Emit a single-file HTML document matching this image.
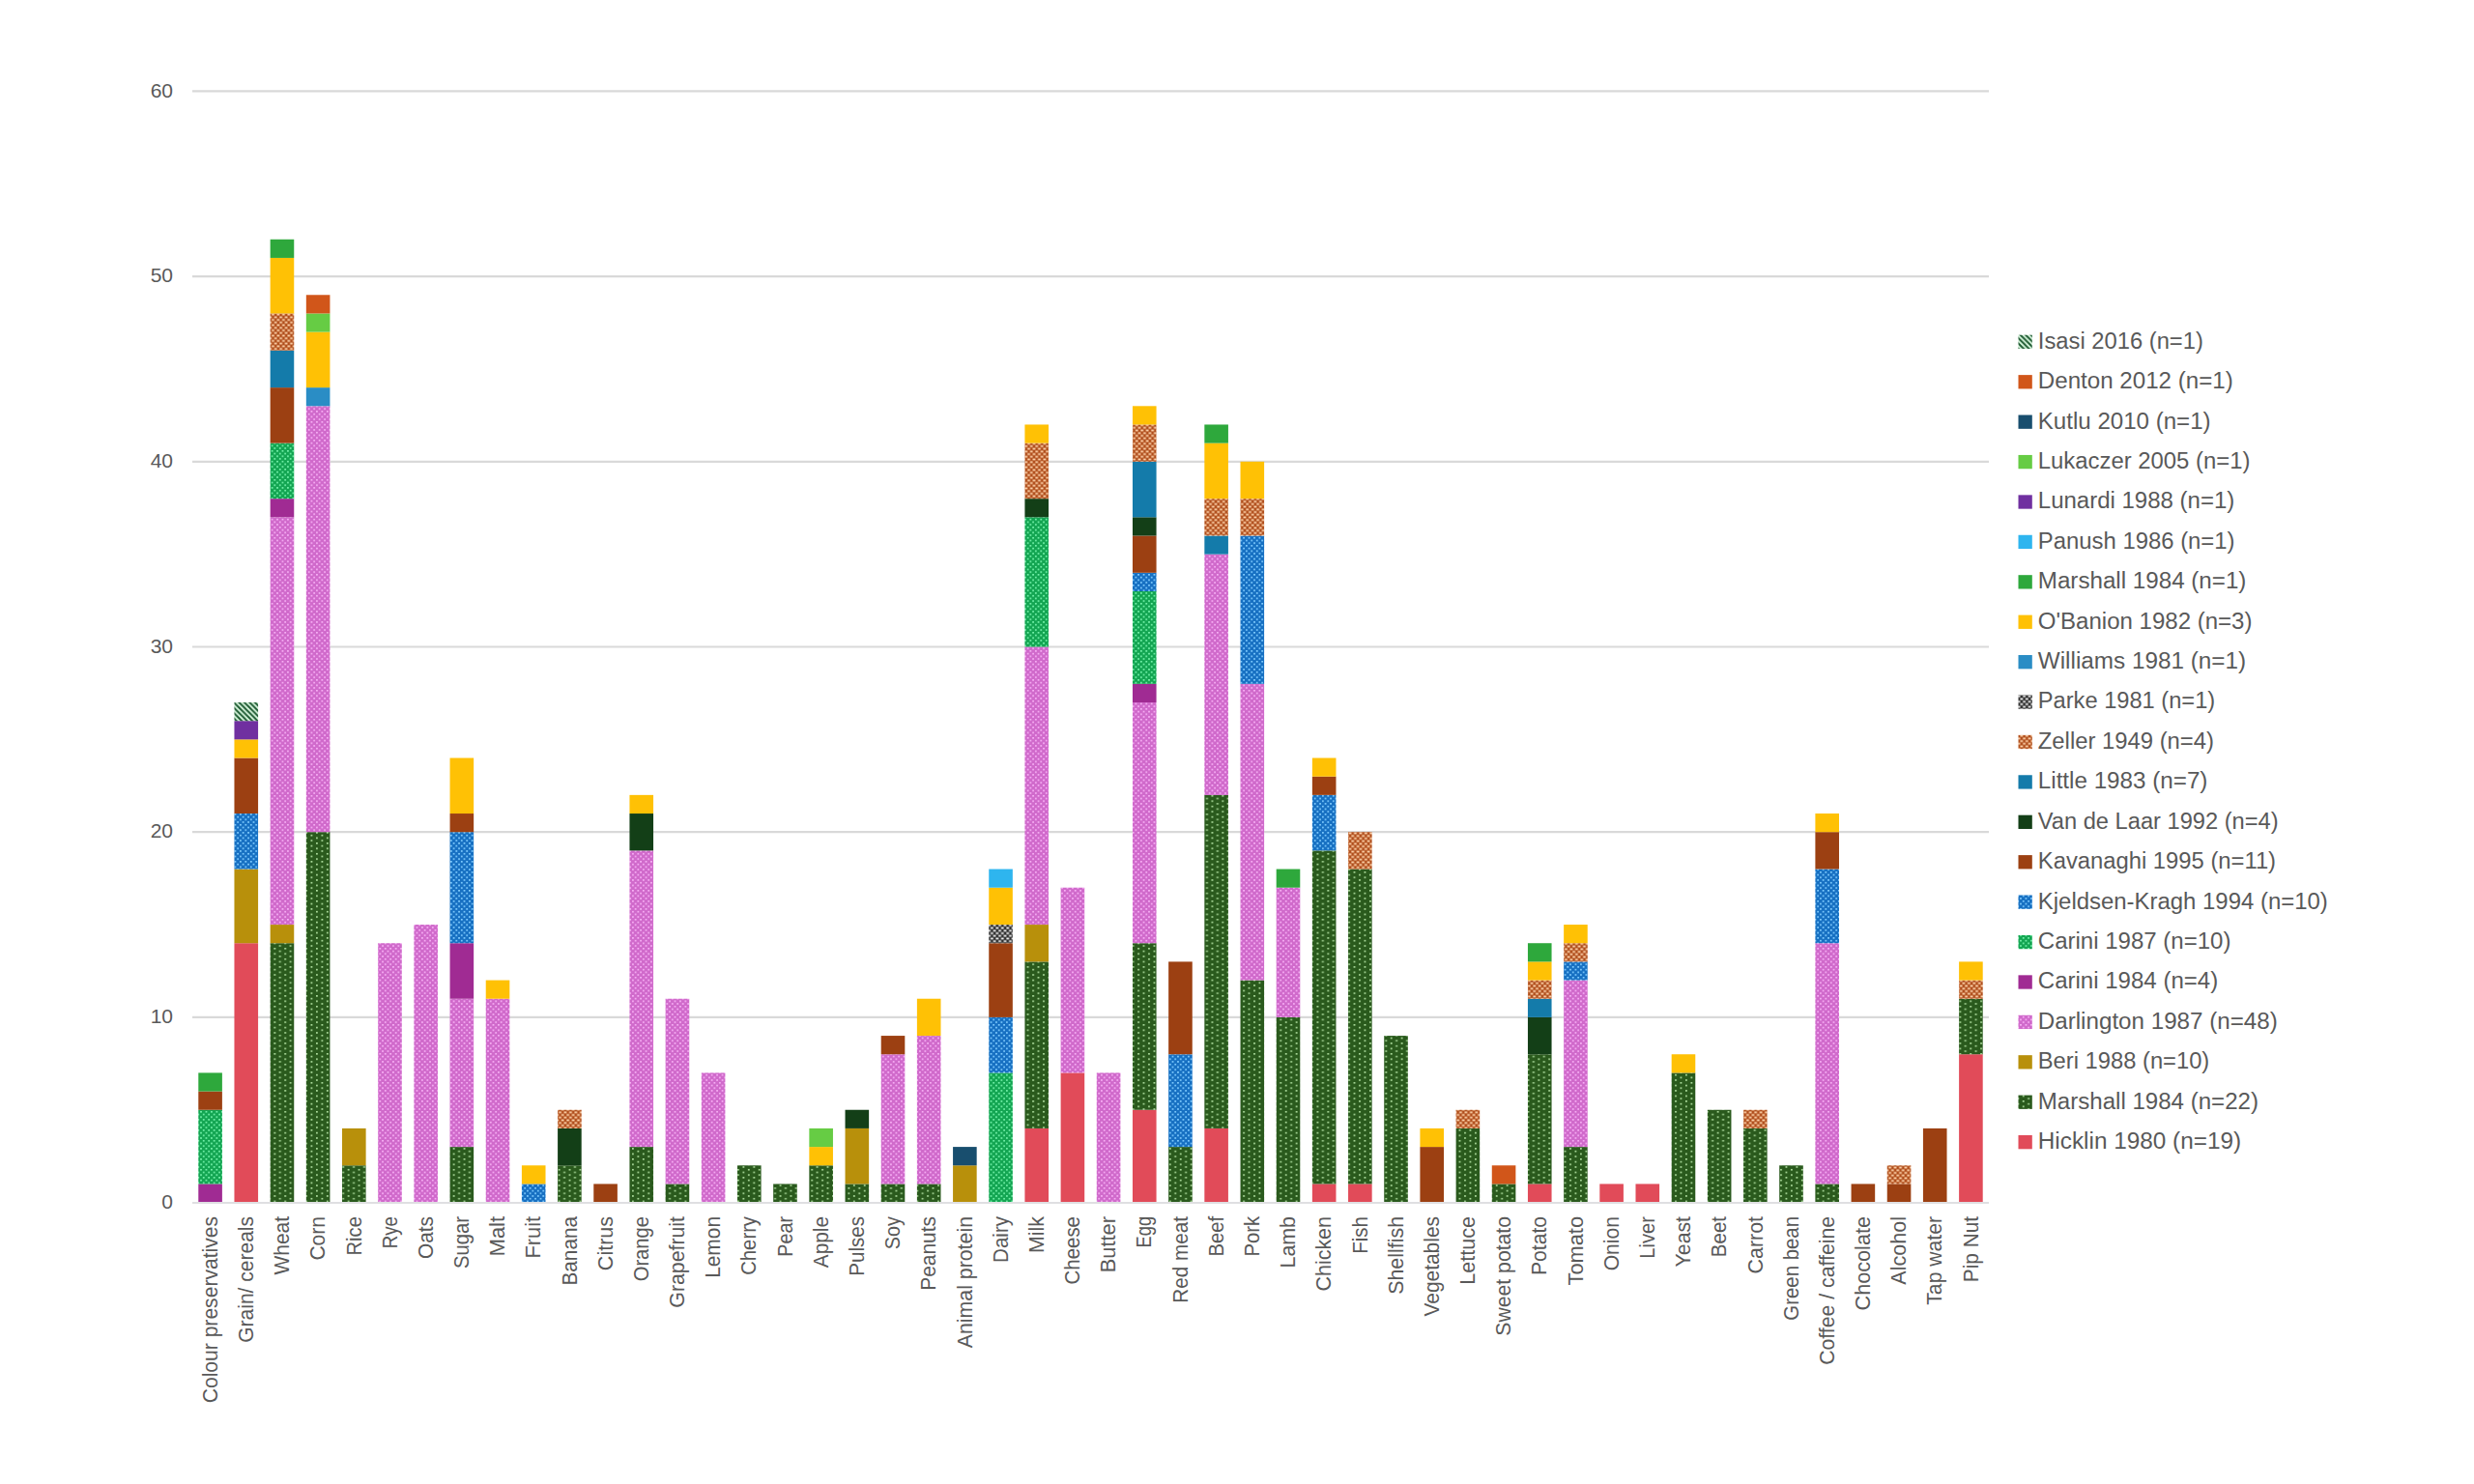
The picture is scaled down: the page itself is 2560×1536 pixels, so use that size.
<!DOCTYPE html>
<html><head><meta charset="utf-8"><title>Chart</title>
<style>html,body{margin:0;padding:0;background:#fff;}body{width:2560px;height:1536px;overflow:hidden;}svg{display:block;}</style>
</head><body>
<svg width="2560" height="1536" viewBox="0 0 2560 1536">
<defs>
<pattern id="dotg" patternUnits="userSpaceOnUse" width="10.9" height="5.45"><rect width="10.9" height="5.45" fill="#2A5A1D"/><rect x="0" y="0" width="1.8" height="1.6" fill="#B0E0A0"/><rect x="5.45" y="2.72" width="1.8" height="1.6" fill="#B0E0A0"/></pattern>
<pattern id="dotp" patternUnits="userSpaceOnUse" width="5.45" height="5.45"><rect width="5.45" height="5.45" fill="#D06ACB"/><rect x="0" y="0" width="1.8" height="1.6" fill="#F7B0F5"/><rect x="2.72" y="2.72" width="1.8" height="1.6" fill="#F7B0F5"/></pattern>
<pattern id="dotb" patternUnits="userSpaceOnUse" width="5.45" height="5.45"><rect width="5.45" height="5.45" fill="#1770C2"/><rect x="0" y="0" width="1.8" height="1.6" fill="#80CCFF"/><rect x="2.72" y="2.72" width="1.8" height="1.6" fill="#80CCFF"/></pattern>
<pattern id="dotc" patternUnits="userSpaceOnUse" width="5.45" height="5.45"><rect width="5.45" height="5.45" fill="#13A552"/><rect x="0" y="0" width="1.8" height="1.6" fill="#74F2AA"/><rect x="2.72" y="2.72" width="1.8" height="1.6" fill="#74F2AA"/></pattern>
<pattern id="brkz" patternUnits="userSpaceOnUse" width="5.45" height="5.45"><rect width="5.45" height="5.45" fill="#B04E1C"/><rect x="0.4" y="0.45" width="2.8" height="1.8" fill="#FFD4AC"/><rect x="3.12" y="3.17" width="2.8" height="1.8" fill="#FFD4AC"/><rect x="-2.33" y="3.17" width="2.8" height="1.8" fill="#FFD4AC"/></pattern>
<pattern id="brkp" patternUnits="userSpaceOnUse" width="5.45" height="5.45"><rect width="5.45" height="5.45" fill="#303030"/><rect x="0.4" y="0.45" width="2.8" height="1.8" fill="#F2F2F2"/><rect x="3.12" y="3.17" width="2.8" height="1.8" fill="#F2F2F2"/><rect x="-2.33" y="3.17" width="2.8" height="1.8" fill="#F2F2F2"/></pattern>
<pattern id="strp" patternUnits="userSpaceOnUse" width="5.45" height="5.45"><rect width="5.45" height="5.45" fill="#D6F5DC"/><path d="M-1,-1 L6.45,6.45 M-1,4.45 L1,6.45 M4.45,-1 L6.45,1" stroke="#1E5A32" stroke-width="2"/></pattern>
</defs>
<rect width="2560" height="1536" fill="#ffffff"/>
<g stroke="#D9D9D9" stroke-width="2.2"><line x1="199" y1="1052.9" x2="2058" y2="1052.9"/><line x1="199" y1="861.2" x2="2058" y2="861.2"/><line x1="199" y1="669.5" x2="2058" y2="669.5"/><line x1="199" y1="477.8" x2="2058" y2="477.8"/><line x1="199" y1="286.1" x2="2058" y2="286.1"/><line x1="199" y1="94.4" x2="2058" y2="94.4"/></g>
<line x1="199" y1="1245" x2="2058" y2="1245" stroke="#D4D4D8" stroke-width="1.7"/>
<g font-family="Liberation Sans, Arial, sans-serif" font-size="21" fill="#595959" text-anchor="end"><text x="179.0" y="1250.8">0</text><text x="179.0" y="1059.1">10</text><text x="179.0" y="867.4">20</text><text x="179.0" y="675.7">30</text><text x="179.0" y="484">40</text><text x="179.0" y="292.3">50</text><text x="179.0" y="100.6">60</text></g>
<g><rect x="205.29" y="1225.43" width="24.6" height="18.57" fill="#A02B93"/><rect x="205.29" y="1148.75" width="24.6" height="76.68" fill="url(#dotc)"/><rect x="205.29" y="1129.58" width="24.6" height="19.17" fill="#9C4012"/><rect x="205.29" y="1110.41" width="24.6" height="19.17" fill="#2EA83C"/><rect x="242.47" y="976.22" width="24.6" height="267.78" fill="#E14B59"/><rect x="242.47" y="899.54" width="24.6" height="76.68" fill="#B8900B"/><rect x="242.47" y="842.03" width="24.6" height="57.51" fill="url(#dotb)"/><rect x="242.47" y="784.52" width="24.6" height="57.51" fill="#9C4012"/><rect x="242.47" y="765.35" width="24.6" height="19.17" fill="#FFC105"/><rect x="242.47" y="746.18" width="24.6" height="19.17" fill="#7030A0"/><rect x="242.47" y="727.01" width="24.6" height="19.17" fill="url(#strp)"/><rect x="279.65" y="976.22" width="24.6" height="267.78" fill="url(#dotg)"/><rect x="279.65" y="957.05" width="24.6" height="19.17" fill="#B8900B"/><rect x="279.65" y="535.31" width="24.6" height="421.74" fill="url(#dotp)"/><rect x="279.65" y="516.14" width="24.6" height="19.17" fill="#A02B93"/><rect x="279.65" y="458.63" width="24.6" height="57.51" fill="url(#dotc)"/><rect x="279.65" y="401.12" width="24.6" height="57.51" fill="#9C4012"/><rect x="279.65" y="362.78" width="24.6" height="38.34" fill="#147BAA"/><rect x="279.65" y="324.44" width="24.6" height="38.34" fill="url(#brkz)"/><rect x="279.65" y="266.93" width="24.6" height="57.51" fill="#FFC105"/><rect x="279.65" y="247.76" width="24.6" height="19.17" fill="#2EA83C"/><rect x="316.83" y="861.2" width="24.6" height="382.8" fill="url(#dotg)"/><rect x="316.83" y="420.29" width="24.6" height="440.91" fill="url(#dotp)"/><rect x="316.83" y="401.12" width="24.6" height="19.17" fill="#2A8DC5"/><rect x="316.83" y="343.61" width="24.6" height="57.51" fill="#FFC105"/><rect x="316.83" y="324.44" width="24.6" height="19.17" fill="#66CC44"/><rect x="316.83" y="305.27" width="24.6" height="19.17" fill="#D1561A"/><rect x="354.01" y="1206.26" width="24.6" height="37.74" fill="url(#dotg)"/><rect x="354.01" y="1167.92" width="24.6" height="38.34" fill="#B8900B"/><rect x="391.19" y="976.22" width="24.6" height="267.78" fill="url(#dotp)"/><rect x="428.37" y="957.05" width="24.6" height="286.95" fill="url(#dotp)"/><rect x="465.55" y="1187.09" width="24.6" height="56.91" fill="url(#dotg)"/><rect x="465.55" y="1033.73" width="24.6" height="153.36" fill="url(#dotp)"/><rect x="465.55" y="976.22" width="24.6" height="57.51" fill="#A02B93"/><rect x="465.55" y="861.2" width="24.6" height="115.02" fill="url(#dotb)"/><rect x="465.55" y="842.03" width="24.6" height="19.17" fill="#9C4012"/><rect x="465.55" y="784.52" width="24.6" height="57.51" fill="#FFC105"/><rect x="502.73" y="1033.73" width="24.6" height="210.27" fill="url(#dotp)"/><rect x="502.73" y="1014.56" width="24.6" height="19.17" fill="#FFC105"/><rect x="539.91" y="1225.43" width="24.6" height="18.57" fill="url(#dotb)"/><rect x="539.91" y="1206.26" width="24.6" height="19.17" fill="#FFC105"/><rect x="577.09" y="1206.26" width="24.6" height="37.74" fill="url(#dotg)"/><rect x="577.09" y="1167.92" width="24.6" height="38.34" fill="#133F17"/><rect x="577.09" y="1148.75" width="24.6" height="19.17" fill="url(#brkz)"/><rect x="614.27" y="1225.43" width="24.6" height="18.57" fill="#9C4012"/><rect x="651.45" y="1187.09" width="24.6" height="56.91" fill="url(#dotg)"/><rect x="651.45" y="880.37" width="24.6" height="306.72" fill="url(#dotp)"/><rect x="651.45" y="842.03" width="24.6" height="38.34" fill="#133F17"/><rect x="651.45" y="822.86" width="24.6" height="19.17" fill="#FFC105"/><rect x="688.63" y="1225.43" width="24.6" height="18.57" fill="url(#dotg)"/><rect x="688.63" y="1033.73" width="24.6" height="191.7" fill="url(#dotp)"/><rect x="725.81" y="1110.41" width="24.6" height="133.59" fill="url(#dotp)"/><rect x="762.99" y="1206.26" width="24.6" height="37.74" fill="url(#dotg)"/><rect x="800.17" y="1225.43" width="24.6" height="18.57" fill="url(#dotg)"/><rect x="837.35" y="1206.26" width="24.6" height="37.74" fill="url(#dotg)"/><rect x="837.35" y="1187.09" width="24.6" height="19.17" fill="#FFC105"/><rect x="837.35" y="1167.92" width="24.6" height="19.17" fill="#66CC44"/><rect x="874.53" y="1225.43" width="24.6" height="18.57" fill="url(#dotg)"/><rect x="874.53" y="1167.92" width="24.6" height="57.51" fill="#B8900B"/><rect x="874.53" y="1148.75" width="24.6" height="19.17" fill="#133F17"/><rect x="911.71" y="1225.43" width="24.6" height="18.57" fill="url(#dotg)"/><rect x="911.71" y="1091.24" width="24.6" height="134.19" fill="url(#dotp)"/><rect x="911.71" y="1072.07" width="24.6" height="19.17" fill="#9C4012"/><rect x="948.89" y="1225.43" width="24.6" height="18.57" fill="url(#dotg)"/><rect x="948.89" y="1072.07" width="24.6" height="153.36" fill="url(#dotp)"/><rect x="948.89" y="1033.73" width="24.6" height="38.34" fill="#FFC105"/><rect x="986.07" y="1206.26" width="24.6" height="37.74" fill="#B8900B"/><rect x="986.07" y="1187.09" width="24.6" height="19.17" fill="#184E6E"/><rect x="1023.25" y="1110.41" width="24.6" height="133.59" fill="url(#dotc)"/><rect x="1023.25" y="1052.9" width="24.6" height="57.51" fill="url(#dotb)"/><rect x="1023.25" y="976.22" width="24.6" height="76.68" fill="#9C4012"/><rect x="1023.25" y="957.05" width="24.6" height="19.17" fill="url(#brkp)"/><rect x="1023.25" y="918.71" width="24.6" height="38.34" fill="#FFC105"/><rect x="1023.25" y="899.54" width="24.6" height="19.17" fill="#2EB5EF"/><rect x="1060.43" y="1167.92" width="24.6" height="76.08" fill="#E14B59"/><rect x="1060.43" y="995.39" width="24.6" height="172.53" fill="url(#dotg)"/><rect x="1060.43" y="957.05" width="24.6" height="38.34" fill="#B8900B"/><rect x="1060.43" y="669.5" width="24.6" height="287.55" fill="url(#dotp)"/><rect x="1060.43" y="535.31" width="24.6" height="134.19" fill="url(#dotc)"/><rect x="1060.43" y="516.14" width="24.6" height="19.17" fill="#133F17"/><rect x="1060.43" y="458.63" width="24.6" height="57.51" fill="url(#brkz)"/><rect x="1060.43" y="439.46" width="24.6" height="19.17" fill="#FFC105"/><rect x="1097.61" y="1110.41" width="24.6" height="133.59" fill="#E14B59"/><rect x="1097.61" y="918.71" width="24.6" height="191.7" fill="url(#dotp)"/><rect x="1134.79" y="1110.41" width="24.6" height="133.59" fill="url(#dotp)"/><rect x="1171.97" y="1148.75" width="24.6" height="95.25" fill="#E14B59"/><rect x="1171.97" y="976.22" width="24.6" height="172.53" fill="url(#dotg)"/><rect x="1171.97" y="727.01" width="24.6" height="249.21" fill="url(#dotp)"/><rect x="1171.97" y="707.84" width="24.6" height="19.17" fill="#A02B93"/><rect x="1171.97" y="611.99" width="24.6" height="95.85" fill="url(#dotc)"/><rect x="1171.97" y="592.82" width="24.6" height="19.17" fill="url(#dotb)"/><rect x="1171.97" y="554.48" width="24.6" height="38.34" fill="#9C4012"/><rect x="1171.97" y="535.31" width="24.6" height="19.17" fill="#133F17"/><rect x="1171.97" y="477.8" width="24.6" height="57.51" fill="#147BAA"/><rect x="1171.97" y="439.46" width="24.6" height="38.34" fill="url(#brkz)"/><rect x="1171.97" y="420.29" width="24.6" height="19.17" fill="#FFC105"/><rect x="1209.15" y="1187.09" width="24.6" height="56.91" fill="url(#dotg)"/><rect x="1209.15" y="1091.24" width="24.6" height="95.85" fill="url(#dotb)"/><rect x="1209.15" y="995.39" width="24.6" height="95.85" fill="#9C4012"/><rect x="1246.33" y="1167.92" width="24.6" height="76.08" fill="#E14B59"/><rect x="1246.33" y="822.86" width="24.6" height="345.06" fill="url(#dotg)"/><rect x="1246.33" y="573.65" width="24.6" height="249.21" fill="url(#dotp)"/><rect x="1246.33" y="554.48" width="24.6" height="19.17" fill="#147BAA"/><rect x="1246.33" y="516.14" width="24.6" height="38.34" fill="url(#brkz)"/><rect x="1246.33" y="458.63" width="24.6" height="57.51" fill="#FFC105"/><rect x="1246.33" y="439.46" width="24.6" height="19.17" fill="#2EA83C"/><rect x="1283.51" y="1014.56" width="24.6" height="229.44" fill="url(#dotg)"/><rect x="1283.51" y="707.84" width="24.6" height="306.72" fill="url(#dotp)"/><rect x="1283.51" y="554.48" width="24.6" height="153.36" fill="url(#dotb)"/><rect x="1283.51" y="516.14" width="24.6" height="38.34" fill="url(#brkz)"/><rect x="1283.51" y="477.8" width="24.6" height="38.34" fill="#FFC105"/><rect x="1320.69" y="1052.9" width="24.6" height="191.1" fill="url(#dotg)"/><rect x="1320.69" y="918.71" width="24.6" height="134.19" fill="url(#dotp)"/><rect x="1320.69" y="899.54" width="24.6" height="19.17" fill="#2EA83C"/><rect x="1357.87" y="1225.43" width="24.6" height="18.57" fill="#E14B59"/><rect x="1357.87" y="880.37" width="24.6" height="345.06" fill="url(#dotg)"/><rect x="1357.87" y="822.86" width="24.6" height="57.51" fill="url(#dotb)"/><rect x="1357.87" y="803.69" width="24.6" height="19.17" fill="#9C4012"/><rect x="1357.87" y="784.52" width="24.6" height="19.17" fill="#FFC105"/><rect x="1395.05" y="1225.43" width="24.6" height="18.57" fill="#E14B59"/><rect x="1395.05" y="899.54" width="24.6" height="325.89" fill="url(#dotg)"/><rect x="1395.05" y="861.2" width="24.6" height="38.34" fill="url(#brkz)"/><rect x="1432.23" y="1072.07" width="24.6" height="171.93" fill="url(#dotg)"/><rect x="1469.41" y="1187.09" width="24.6" height="56.91" fill="#9C4012"/><rect x="1469.41" y="1167.92" width="24.6" height="19.17" fill="#FFC105"/><rect x="1506.59" y="1167.92" width="24.6" height="76.08" fill="url(#dotg)"/><rect x="1506.59" y="1148.75" width="24.6" height="19.17" fill="url(#brkz)"/><rect x="1543.77" y="1225.43" width="24.6" height="18.57" fill="url(#dotg)"/><rect x="1543.77" y="1206.26" width="24.6" height="19.17" fill="#D1561A"/><rect x="1580.95" y="1225.43" width="24.6" height="18.57" fill="#E14B59"/><rect x="1580.95" y="1091.24" width="24.6" height="134.19" fill="url(#dotg)"/><rect x="1580.95" y="1052.9" width="24.6" height="38.34" fill="#133F17"/><rect x="1580.95" y="1033.73" width="24.6" height="19.17" fill="#147BAA"/><rect x="1580.95" y="1014.56" width="24.6" height="19.17" fill="url(#brkz)"/><rect x="1580.95" y="995.39" width="24.6" height="19.17" fill="#FFC105"/><rect x="1580.95" y="976.22" width="24.6" height="19.17" fill="#2EA83C"/><rect x="1618.13" y="1187.09" width="24.6" height="56.91" fill="url(#dotg)"/><rect x="1618.13" y="1014.56" width="24.6" height="172.53" fill="url(#dotp)"/><rect x="1618.13" y="995.39" width="24.6" height="19.17" fill="url(#dotb)"/><rect x="1618.13" y="976.22" width="24.6" height="19.17" fill="url(#brkz)"/><rect x="1618.13" y="957.05" width="24.6" height="19.17" fill="#FFC105"/><rect x="1655.31" y="1225.43" width="24.6" height="18.57" fill="#E14B59"/><rect x="1692.49" y="1225.43" width="24.6" height="18.57" fill="#E14B59"/><rect x="1729.67" y="1110.41" width="24.6" height="133.59" fill="url(#dotg)"/><rect x="1729.67" y="1091.24" width="24.6" height="19.17" fill="#FFC105"/><rect x="1766.85" y="1148.75" width="24.6" height="95.25" fill="url(#dotg)"/><rect x="1804.03" y="1167.92" width="24.6" height="76.08" fill="url(#dotg)"/><rect x="1804.03" y="1148.75" width="24.6" height="19.17" fill="url(#brkz)"/><rect x="1841.21" y="1206.26" width="24.6" height="37.74" fill="url(#dotg)"/><rect x="1878.39" y="1225.43" width="24.6" height="18.57" fill="url(#dotg)"/><rect x="1878.39" y="976.22" width="24.6" height="249.21" fill="url(#dotp)"/><rect x="1878.39" y="899.54" width="24.6" height="76.68" fill="url(#dotb)"/><rect x="1878.39" y="861.2" width="24.6" height="38.34" fill="#9C4012"/><rect x="1878.39" y="842.03" width="24.6" height="19.17" fill="#FFC105"/><rect x="1915.57" y="1225.43" width="24.6" height="18.57" fill="#9C4012"/><rect x="1952.75" y="1225.43" width="24.6" height="18.57" fill="#9C4012"/><rect x="1952.75" y="1206.26" width="24.6" height="19.17" fill="url(#brkz)"/><rect x="1989.93" y="1167.92" width="24.6" height="76.08" fill="#9C4012"/><rect x="2027.11" y="1091.24" width="24.6" height="152.76" fill="#E14B59"/><rect x="2027.11" y="1033.73" width="24.6" height="57.51" fill="url(#dotg)"/><rect x="2027.11" y="1014.56" width="24.6" height="19.17" fill="url(#brkz)"/><rect x="2027.11" y="995.39" width="24.6" height="19.17" fill="#FFC105"/></g>
<g font-family="Liberation Sans, Arial, sans-serif" font-size="21.5" fill="#595959" text-anchor="end"><text transform="translate(224.79,1259) rotate(-90)" textLength="193.3" lengthAdjust="spacingAndGlyphs">Colour preservatives</text><text transform="translate(261.97,1259) rotate(-90)" textLength="130.84" lengthAdjust="spacingAndGlyphs">Grain/ cereals</text><text transform="translate(299.15,1259) rotate(-90)" textLength="60.54" lengthAdjust="spacingAndGlyphs">Wheat</text><text transform="translate(336.33,1259) rotate(-90)" textLength="45.6" lengthAdjust="spacingAndGlyphs">Corn</text><text transform="translate(373.51,1259) rotate(-90)" textLength="40.5" lengthAdjust="spacingAndGlyphs">Rice</text><text transform="translate(410.69,1259) rotate(-90)" textLength="33.27" lengthAdjust="spacingAndGlyphs">Rye</text><text transform="translate(447.87,1259) rotate(-90)" textLength="43.96" lengthAdjust="spacingAndGlyphs">Oats</text><text transform="translate(485.05,1259) rotate(-90)" textLength="54.02" lengthAdjust="spacingAndGlyphs">Sugar</text><text transform="translate(522.23,1259) rotate(-90)" textLength="41.23" lengthAdjust="spacingAndGlyphs">Malt</text><text transform="translate(559.41,1259) rotate(-90)" textLength="43.4" lengthAdjust="spacingAndGlyphs">Fruit</text><text transform="translate(596.59,1259) rotate(-90)" textLength="71.51" lengthAdjust="spacingAndGlyphs">Banana</text><text transform="translate(633.77,1259) rotate(-90)" textLength="56.15" lengthAdjust="spacingAndGlyphs">Citrus</text><text transform="translate(670.95,1259) rotate(-90)" textLength="67.32" lengthAdjust="spacingAndGlyphs">Orange</text><text transform="translate(708.13,1259) rotate(-90)" textLength="94.67" lengthAdjust="spacingAndGlyphs">Grapefruit</text><text transform="translate(745.31,1259) rotate(-90)" textLength="63.86" lengthAdjust="spacingAndGlyphs">Lemon</text><text transform="translate(782.49,1259) rotate(-90)" textLength="60.79" lengthAdjust="spacingAndGlyphs">Cherry</text><text transform="translate(819.67,1259) rotate(-90)" textLength="41.68" lengthAdjust="spacingAndGlyphs">Pear</text><text transform="translate(856.85,1259) rotate(-90)" textLength="53.16" lengthAdjust="spacingAndGlyphs">Apple</text><text transform="translate(894.03,1259) rotate(-90)" textLength="61.8" lengthAdjust="spacingAndGlyphs">Pulses</text><text transform="translate(931.21,1259) rotate(-90)" textLength="34.14" lengthAdjust="spacingAndGlyphs">Soy</text><text transform="translate(968.39,1259) rotate(-90)" textLength="76.73" lengthAdjust="spacingAndGlyphs">Peanuts</text><text transform="translate(1005.57,1259) rotate(-90)" textLength="136.34" lengthAdjust="spacingAndGlyphs">Animal protein</text><text transform="translate(1042.75,1259) rotate(-90)" textLength="47.89" lengthAdjust="spacingAndGlyphs">Dairy</text><text transform="translate(1079.93,1259) rotate(-90)" textLength="38.05" lengthAdjust="spacingAndGlyphs">Milk</text><text transform="translate(1117.11,1259) rotate(-90)" textLength="70.5" lengthAdjust="spacingAndGlyphs">Cheese</text><text transform="translate(1154.29,1259) rotate(-90)" textLength="58.21" lengthAdjust="spacingAndGlyphs">Butter</text><text transform="translate(1191.47,1259) rotate(-90)" textLength="32.38" lengthAdjust="spacingAndGlyphs">Egg</text><text transform="translate(1228.65,1259) rotate(-90)" textLength="89.71" lengthAdjust="spacingAndGlyphs">Red meat</text><text transform="translate(1265.83,1259) rotate(-90)" textLength="41.55" lengthAdjust="spacingAndGlyphs">Beef</text><text transform="translate(1303.01,1259) rotate(-90)" textLength="41.54" lengthAdjust="spacingAndGlyphs">Pork</text><text transform="translate(1340.19,1259) rotate(-90)" textLength="53.52" lengthAdjust="spacingAndGlyphs">Lamb</text><text transform="translate(1377.37,1259) rotate(-90)" textLength="77.57" lengthAdjust="spacingAndGlyphs">Chicken</text><text transform="translate(1414.55,1259) rotate(-90)" textLength="38.73" lengthAdjust="spacingAndGlyphs">Fish</text><text transform="translate(1451.73,1259) rotate(-90)" textLength="80.78" lengthAdjust="spacingAndGlyphs">Shellfish</text><text transform="translate(1488.91,1259) rotate(-90)" textLength="103.52" lengthAdjust="spacingAndGlyphs">Vegetables</text><text transform="translate(1526.09,1259) rotate(-90)" textLength="70.69" lengthAdjust="spacingAndGlyphs">Lettuce</text><text transform="translate(1563.27,1259) rotate(-90)" textLength="123.63" lengthAdjust="spacingAndGlyphs">Sweet potato</text><text transform="translate(1600.45,1259) rotate(-90)" textLength="61.05" lengthAdjust="spacingAndGlyphs">Potato</text><text transform="translate(1637.63,1259) rotate(-90)" textLength="71.48" lengthAdjust="spacingAndGlyphs">Tomato</text><text transform="translate(1674.81,1259) rotate(-90)" textLength="56.32" lengthAdjust="spacingAndGlyphs">Onion</text><text transform="translate(1711.99,1259) rotate(-90)" textLength="43.7" lengthAdjust="spacingAndGlyphs">Liver</text><text transform="translate(1749.17,1259) rotate(-90)" textLength="52.38" lengthAdjust="spacingAndGlyphs">Yeast</text><text transform="translate(1786.35,1259) rotate(-90)" textLength="42.15" lengthAdjust="spacingAndGlyphs">Beet</text><text transform="translate(1823.53,1259) rotate(-90)" textLength="59.46" lengthAdjust="spacingAndGlyphs">Carrot</text><text transform="translate(1860.71,1259) rotate(-90)" textLength="107.7" lengthAdjust="spacingAndGlyphs">Green bean</text><text transform="translate(1897.89,1259) rotate(-90)" textLength="153.77" lengthAdjust="spacingAndGlyphs">Coffee / caffeine</text><text transform="translate(1935.07,1259) rotate(-90)" textLength="97.43" lengthAdjust="spacingAndGlyphs">Chocolate</text><text transform="translate(1972.25,1259) rotate(-90)" textLength="70.69" lengthAdjust="spacingAndGlyphs">Alcohol</text><text transform="translate(2009.43,1259) rotate(-90)" textLength="91.71" lengthAdjust="spacingAndGlyphs">Tap water</text><text transform="translate(2046.61,1259) rotate(-90)" textLength="68.18" lengthAdjust="spacingAndGlyphs">Pip Nut</text></g>
<g font-family="Liberation Sans, Arial, sans-serif" font-size="23.5" fill="#595959"><rect x="2088.5" y="346.7" width="14.3" height="14.3" fill="url(#strp)"/><text x="2108.8" y="360.7" textLength="171.06" lengthAdjust="spacingAndGlyphs">Isasi 2016 (n=1)</text><rect x="2088.5" y="388.12" width="14.3" height="14.3" fill="#D1561A"/><text x="2108.8" y="402.12" textLength="201.95" lengthAdjust="spacingAndGlyphs">Denton 2012 (n=1)</text><rect x="2088.5" y="429.53" width="14.3" height="14.3" fill="#184E6E"/><text x="2108.8" y="443.53" textLength="178.8" lengthAdjust="spacingAndGlyphs">Kutlu 2010 (n=1)</text><rect x="2088.5" y="470.94" width="14.3" height="14.3" fill="#66CC44"/><text x="2108.8" y="484.94" textLength="219.58" lengthAdjust="spacingAndGlyphs">Lukaczer 2005 (n=1)</text><rect x="2088.5" y="512.36" width="14.3" height="14.3" fill="#7030A0"/><text x="2108.8" y="526.36" textLength="203.46" lengthAdjust="spacingAndGlyphs">Lunardi 1988 (n=1)</text><rect x="2088.5" y="553.77" width="14.3" height="14.3" fill="#2EB5EF"/><text x="2108.8" y="567.77" textLength="203.73" lengthAdjust="spacingAndGlyphs">Panush 1986 (n=1)</text><rect x="2088.5" y="595.19" width="14.3" height="14.3" fill="#2EA83C"/><text x="2108.8" y="609.19" textLength="215.58" lengthAdjust="spacingAndGlyphs">Marshall 1984 (n=1)</text><rect x="2088.5" y="636.61" width="14.3" height="14.3" fill="#FFC105"/><text x="2108.8" y="650.61" textLength="221.64" lengthAdjust="spacingAndGlyphs">O&#39;Banion 1982 (n=3)</text><rect x="2088.5" y="678.02" width="14.3" height="14.3" fill="#2A8DC5"/><text x="2108.8" y="692.02" textLength="215.28" lengthAdjust="spacingAndGlyphs">Williams 1981 (n=1)</text><rect x="2088.5" y="719.43" width="14.3" height="14.3" fill="url(#brkp)"/><text x="2108.8" y="733.43" textLength="183.42" lengthAdjust="spacingAndGlyphs">Parke 1981 (n=1)</text><rect x="2088.5" y="760.85" width="14.3" height="14.3" fill="url(#brkz)"/><text x="2108.8" y="774.85" textLength="182.19" lengthAdjust="spacingAndGlyphs">Zeller 1949 (n=4)</text><rect x="2088.5" y="802.26" width="14.3" height="14.3" fill="#147BAA"/><text x="2108.8" y="816.26" textLength="175.62" lengthAdjust="spacingAndGlyphs">Little 1983 (n=7)</text><rect x="2088.5" y="843.68" width="14.3" height="14.3" fill="#133F17"/><text x="2108.8" y="857.68" textLength="248.83" lengthAdjust="spacingAndGlyphs">Van de Laar 1992 (n=4)</text><rect x="2088.5" y="885.1" width="14.3" height="14.3" fill="#9C4012"/><text x="2108.8" y="899.1" textLength="246.26" lengthAdjust="spacingAndGlyphs">Kavanaghi 1995 (n=11)</text><rect x="2088.5" y="926.51" width="14.3" height="14.3" fill="url(#dotb)"/><text x="2108.8" y="940.51" textLength="299.95" lengthAdjust="spacingAndGlyphs">Kjeldsen-Kragh 1994 (n=10)</text><rect x="2088.5" y="967.92" width="14.3" height="14.3" fill="url(#dotc)"/><text x="2108.8" y="981.92" textLength="199.68" lengthAdjust="spacingAndGlyphs">Carini 1987 (n=10)</text><rect x="2088.5" y="1009.34" width="14.3" height="14.3" fill="#A02B93"/><text x="2108.8" y="1023.34" textLength="186.4" lengthAdjust="spacingAndGlyphs">Carini 1984 (n=4)</text><rect x="2088.5" y="1050.75" width="14.3" height="14.3" fill="url(#dotp)"/><text x="2108.8" y="1064.75" textLength="247.95" lengthAdjust="spacingAndGlyphs">Darlington 1987 (n=48)</text><rect x="2088.5" y="1092.17" width="14.3" height="14.3" fill="#B8900B"/><text x="2108.8" y="1106.17" textLength="177.44" lengthAdjust="spacingAndGlyphs">Beri 1988 (n=10)</text><rect x="2088.5" y="1133.59" width="14.3" height="14.3" fill="url(#dotg)"/><text x="2108.8" y="1147.59" textLength="228.14" lengthAdjust="spacingAndGlyphs">Marshall 1984 (n=22)</text><rect x="2088.5" y="1175" width="14.3" height="14.3" fill="#E14B59"/><text x="2108.8" y="1189" textLength="210.3" lengthAdjust="spacingAndGlyphs">Hicklin 1980 (n=19)</text></g>
</svg>
</body></html>
